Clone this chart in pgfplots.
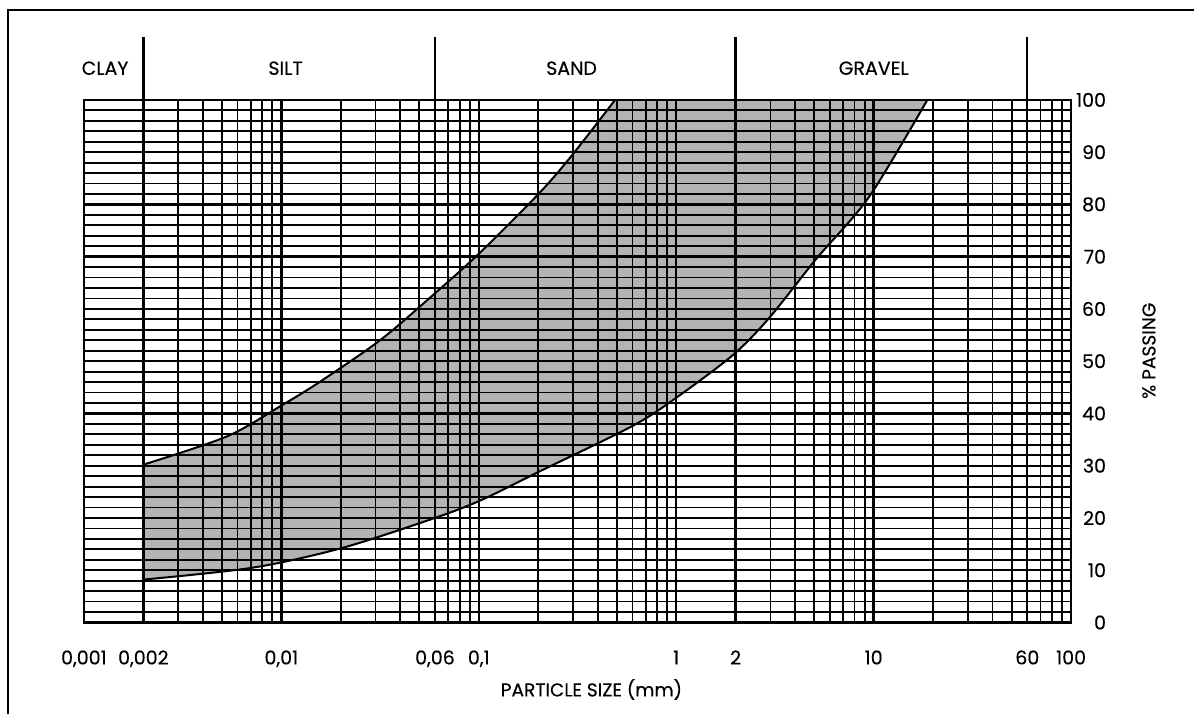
\documentclass[border=0pt]{standalone}
\usepackage{pgfplots}
\pgfplotsset{compat=1.18}
\usepackage{fontspec}
\setmainfont{Poppins}[FakeBold=0.3]

\begin{document}
\begin{tikzpicture}
\path (0,0) rectangle (597.5pt,357.5pt);
\draw[line width=1pt] (4pt,0) -- (4pt,352.5pt) -- (597.5pt,352.5pt);
% ---- layer 1: envelope (beneath the grid)
\begin{axis}[
    at={(42pt,46pt)}, anchor=south west,
    scale only axis, width=494pt, height=261.5pt,
    xmode=log, xmin=0.001, xmax=100, ymin=0, ymax=100,
    clip=false, hide axis]
% gray area under the upper limit
\addplot[fill=black!50, fill opacity=0.6, draw=none, smooth] coordinates {
(0.002,30.2) (0.0053,35.6) (0.0102,41.7) (0.0156,46) (0.0316,54) (0.0564,62.1)
(0.101,70.7) (0.203,82.2) (0.298,89.5) (0.49,100)} \closedcycle;
\addplot[fill=black!50, fill opacity=0.6, draw=none] coordinates {(0.49,0) (0.49,100) (18.7,100) (18.7,0)} -- cycle;
% white area under the lower limit
\addplot[fill=white, draw=none, smooth] coordinates {
(0.002,8.2) (0.0072,10.5) (0.0205,14.3) (0.061,20.1) (0.104,23.5) (0.203,28.9)
(0.6,37.6) (1,43) (1.94,51.2) (2.96,58.3) (5.1,69.5) (9.5,81.5) (18.7,100)} \closedcycle;
\addplot[fill=white, draw=none] coordinates {(18.6,0) (18.6,100) (19.5,100) (19.5,0)} -- cycle;
% limit curves
\addplot[smooth, line width=1pt, black] coordinates {
(0.002,30.2) (0.0053,35.6) (0.0102,41.7) (0.0156,46) (0.0316,54) (0.0564,62.1)
(0.101,70.7) (0.203,82.2) (0.298,89.5) (0.49,100)};
\addplot[smooth, line width=1pt, black] coordinates {
(0.002,8.2) (0.0072,10.5) (0.0205,14.3) (0.061,20.1) (0.104,23.5) (0.203,28.9)
(0.6,37.6) (1,43) (1.94,51.2) (2.96,58.3) (5.1,69.5) (9.5,81.5) (18.7,100)};
\end{axis}
% ---- layer 2: grid, ticks and labels (on top)
\begin{axis}[
  at={(42pt,46pt)}, anchor=south west,
  scale only axis, width=494pt, height=261.5pt,
  xmode=log, xmin=0.001, xmax=100, ymin=0, ymax=100,
  clip=false,
  xtick={0.001,0.002,0.01,0.06,0.1,1,2,10,60,100},
  xticklabels={{0,001},{0,002},{0,01},{0,06},{0,1},{1},{2},{10},{60},{100}},
  minor xtick={0.003,0.004,0.005,0.006,0.007,0.008,0.009,
               0.02,0.03,0.04,0.05,0.07,0.08,0.09,
               0.2,0.3,0.4,0.5,0.6,0.7,0.8,0.9,
               3,4,5,6,7,8,9,
               20,30,40,50,70,80,90},
  ytick={0,10,...,100},
  yticklabels={0,10,20,30,40,50,60,70,80,90,100},
  minor ytick={2,4,6,8,12,14,16,18,22,24,26,28,32,34,36,38,42,44,46,48,52,54,56,58,62,64,66,68,72,74,76,78,82,84,86,88,92,94,96,98},
  yticklabel pos=right,
  grid=both,
  major grid style={black, line width=1.2pt},
  minor grid style={black, line width=0.9pt},
  major tick length=0pt, minor tick length=0pt,
  axis line style={line width=1.2pt},
  tick label style={font=\fontsize{9.5}{11}\selectfont},
  xticklabel style={anchor=base, yshift=-21pt},
  yticklabel style={anchor=east, xshift=21pt},
]
\addplot[line width=1.2pt] coordinates {(0.002,100) (0.002,112.05)};
\addplot[line width=1.2pt] coordinates {(0.06,100) (0.06,112.05)};
\addplot[line width=1.2pt] coordinates {(2,100) (2,112.05)};
\addplot[line width=1.2pt] coordinates {(60,100) (60,112.05)};

\node[anchor=base, font=\fontsize{9.5}{11}\selectfont] at (axis cs:0.00128,104.8) {CLAY};
\node[anchor=base, font=\fontsize{9.5}{11}\selectfont] at (axis cs:0.0105,104.8) {SILT};
\node[anchor=base, font=\fontsize{9.5}{11}\selectfont] at (axis cs:0.295,104.8) {SAND};
\node[anchor=base, font=\fontsize{9.5}{11}\selectfont] at (axis cs:10,104.8) {GRAVEL};
\node[anchor=base, font=\fontsize{9.3}{11}\selectfont] at (axis cs:0.372,-14.15) {PARTICLE SIZE (mm)};
\node[rotate=90, font=\fontsize{9.3}{11}\selectfont] at (axis cs:248,52) {\% PASSING};
\end{axis}
\end{tikzpicture}
\end{document}
